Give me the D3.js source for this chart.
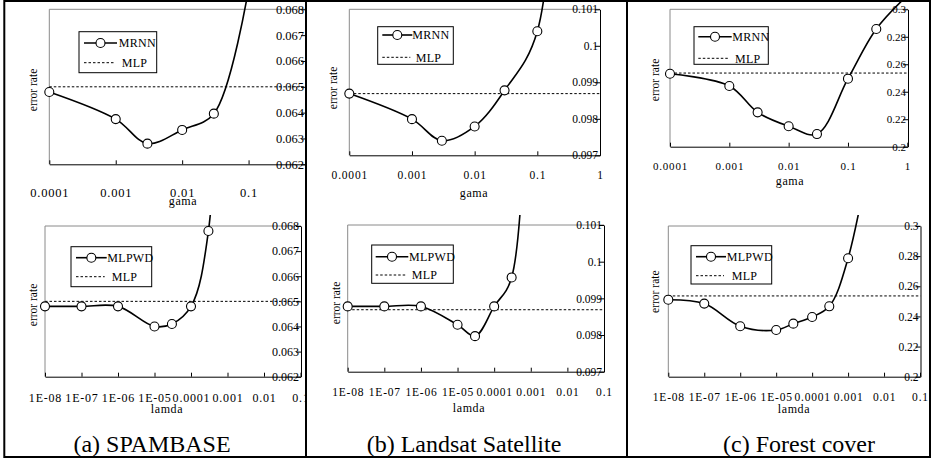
<!DOCTYPE html>
<html>
<head>
<meta charset="utf-8">
<title>error rate vs gama / lamda</title>
<script src="https://cdn.jsdelivr.net/npm/d3@7"></script>
<style>
  body { margin: 0; background: #fff; }
  svg { display: block; }
  svg text { font-family: "Liberation Serif", "DejaVu Serif", serif; }
</style>
</head>
<body>
<script>
// ---- data ----
const gamaTicks = [1e-4, 1e-3, 1e-2, 1e-1, 1];
const gamaTickLabels = ["0.0001", "0.001", "0.01", "0.1", "1"];
const lamdaTicks = [1e-8, 1e-7, 1e-6, 1e-5, 1e-4, 1e-3, 1e-2, 1e-1];
const lamdaTickLabels = ["1E-08", "1E-07", "1E-06", "1E-05", "0.0001", "0.001", "0.01", "0.1"];

const spamTicks = [0.062, 0.063, 0.064, 0.065, 0.066, 0.067, 0.068];
const spamTickLabels = ["0.062", "0.063", "0.064", "0.065", "0.066", "0.067", "0.068"];
const landTicks = [0.097, 0.098, 0.099, 0.1, 0.101];
const landTickLabels = ["0.097", "0.098", "0.099", "0.1", "0.101"];
const forestTicks = [0.2, 0.22, 0.24, 0.26, 0.28, 0.3];
const forestTickLabels = ["0.2", "0.22", "0.24", "0.26", "0.28", "0.3"];

// SPAMBASE
const spamGama = [1e-4, 1e-3, 3e-3, 1e-2, 3e-2, 1e-1];
const spamMRNN = [0.0648, 0.06375, 0.0628, 0.06333, 0.06396, 0.0688];
const spamLamda = [1e-8, 1e-7, 1e-6, 1e-5, 3e-5, 1e-4, 3e-4, 1e-3];
const spamMLPWD = [0.0648, 0.0648, 0.0648, 0.0640, 0.0641, 0.0648, 0.0678, 0.085];
const spamMLP = 0.065;

// Landsat Satellite
const landGama = [1e-4, 1e-3, 3e-3, 1e-2, 3e-2, 1e-1, 3e-1];
const landMRNN = [0.09869, 0.09799, 0.0974, 0.09779, 0.09878, 0.1004, 0.115];
const landLamda = [1e-8, 1e-7, 1e-6, 1e-5, 3e-5, 1e-4, 3e-4, 1e-3];
const landMLPWD = [0.09878, 0.09878, 0.09878, 0.09828, 0.09797, 0.09878, 0.09957, 0.12];
const landMLP = 0.09869;

// Forest cover
const forestGama = [1e-4, 1e-3, 3e-3, 1e-2, 3e-2, 1e-1, 3e-1, 1];
const forestMRNN = [0.2531, 0.2442, 0.225, 0.2149, 0.2092, 0.2495, 0.2857, 0.31];
const forestLamda = [1e-8, 1e-7, 1e-6, 1e-5, 3e-5, 1e-4, 3e-4, 1e-3, 1e-2];
const forestMLPWD = [0.2511, 0.2485, 0.2335, 0.231, 0.2352, 0.2396, 0.2467, 0.2786, 0.4];
const forestMLP = 0.2536;

const captions = ["(a) SPAMBASE", "(b) Landsat Satellite", "(c) Forest cover"];

const FONT = "Liberation Serif, DejaVu Serif, serif";

// ---- panels (data refs + layout) ----
const panels = [
  { xs: spamGama, ys: spamMRNN, mlp: spamMLP, name: "MRNN", xTitle: "gama",
    xTicks: gamaTicks, xLabels: gamaTickLabels, yTicks: spamTicks, yLabels: spamTickLabels,
    xDomain: [1e-4, 1], yDomain: [0.062, 0.068],
    left: 49.3, right: 315, axisX: 306, top: 9.3, bottom: 164.3, font: 12.5,
    tickBase: 32.4, titleBase: 40.7, titleX: 183, errX: 33, errY: 90,
    clip: [5, 2, 300, 212],
    leg: { box: [79, 31.7, 77.7, 41], y1: 43, y2: 62.7, l: [84, 117], t1: 118.7, t2: 121.7 } },
  { xs: spamLamda, ys: spamMLPWD, mlp: spamMLP, name: "MLPWD", xTitle: "lamda",
    xTicks: lamdaTicks, xLabels: lamdaTickLabels, yTicks: spamTicks, yLabels: spamTickLabels,
    xDomain: [1e-8, 0.1], yDomain: [0.062, 0.068],
    left: 45, right: 300.5, axisX: 301, top: 226, bottom: 376.7, font: 12,
    tickBase: 25, titleBase: 36.6, titleX: 167, errX: 32.7, errY: 305,
    clip: [5, 215, 300, 205],
    leg: { box: [71, 246.7, 80.7, 40], y1: 257.7, y2: 276.7, l: [76, 106.7], t1: 107.3, t2: 111.7 } },
  { xs: landGama, ys: landMRNN, mlp: landMLP, name: "MRNN", xTitle: "gama",
    xTicks: gamaTicks, xLabels: gamaTickLabels, yTicks: landTicks, yLabels: landTickLabels,
    xDomain: [1e-4, 1], yDomain: [0.097, 0.101],
    left: 349.3, right: 600, axisX: 600, top: 9.3, bottom: 155.3, font: 11.5,
    tickBase: 24, titleBase: 41.4, titleX: 474, errX: 333.3, errY: 88,
    clip: [307, 2, 319, 212],
    leg: { box: [377.7, 26.7, 75.6, 37.6], y1: 35, y2: 57.3, l: [382.3, 412.3], t1: 412.3, t2: 415.7 } },
  { xs: landLamda, ys: landMLPWD, mlp: landMLP, name: "MLPWD", xTitle: "lamda",
    xTicks: lamdaTicks, xLabels: lamdaTickLabels, yTicks: landTicks, yLabels: landTickLabels,
    xDomain: [1e-8, 0.1], yDomain: [0.097, 0.101],
    left: 347.7, right: 604, axisX: 604, top: 225, bottom: 371.7, font: 11.5,
    tickBase: 24, titleBase: 40, titleX: 469, errX: 335.7, errY: 303,
    clip: [307, 215, 319, 205],
    leg: { box: [371.7, 245, 81.6, 38.3], y1: 256.7, y2: 275, l: [375.7, 408.3], t1: 409, t2: 411.7 } },
  { xs: forestGama, ys: forestMRNN, mlp: forestMLP, name: "MRNN", xTitle: "gama",
    xTicks: gamaTicks, xLabels: gamaTickLabels, yTicks: forestTicks, yLabels: forestTickLabels,
    xDomain: [1e-4, 1], yDomain: [0.2, 0.3],
    left: 670, right: 907.3, axisX: 908, top: 9.3, bottom: 146.7, font: 11,
    tickBase: 23.3, titleBase: 38.3, titleX: 790, errX: 655, errY: 80,
    clip: [628, 2, 301, 212],
    leg: { box: [694, 26.7, 74.3, 37.6], y1: 36.7, y2: 58.3, l: [698.3, 731.7], t1: 732.3, t2: 735 } },
  { xs: forestLamda, ys: forestMLPWD, mlp: forestMLP, name: "MLPWD", xTitle: "lamda",
    xTicks: lamdaTicks, xLabels: lamdaTickLabels, yTicks: forestTicks, yLabels: forestTickLabels,
    xDomain: [1e-8, 0.1], yDomain: [0.2, 0.3],
    left: 668.3, right: 920, axisX: 920.5, top: 226, bottom: 376.7, font: 11.5,
    tickBase: 24.3, titleBase: 36.6, titleX: 794, errX: 655, errY: 291.7,
    clip: [628, 215, 301, 205],
    leg: { box: [691, 245.7, 80.7, 38.3], y1: 256.7, y2: 275.7, l: [696, 726], t1: 726.7, t2: 731.7 } }
];

const svg = d3.select("body").append("svg")
  .attr("width", 934)
  .attr("height", 458)
  .attr("font-family", FONT);

// centripetal Catmull-Rom keeps the off-scale last points from making loops
const smooth = d3.line().curve(d3.curveCatmullRom.alpha(0.5));

function drawPanel(p, i) {
  const x = d3.scaleLog().domain(p.xDomain).range([p.left, p.right]);
  const y = d3.scaleLinear().domain(p.yDomain).range([p.bottom, p.top]);

  svg.append("clipPath").attr("id", "clip" + i)
    .append("rect")
    .attr("x", p.clip[0]).attr("y", p.clip[1])
    .attr("width", p.clip[2]).attr("height", p.clip[3]);

  const g = svg.append("g")
    .attr("clip-path", "url(#clip" + i + ")")
    .attr("font-size", p.font)
    .attr("font-family", FONT);

  // grey plot border, top + left
  g.append("path")
    .attr("d", `M${p.left},${p.bottom}V${p.top}H${p.axisX}`)
    .attr("fill", "none")
    .attr("stroke", "#8a8a8a");

  // x axis, ticks pointing up
  const gx = g.append("g")
    .attr("transform", `translate(0,${p.bottom})`)
    .call(d3.axisBottom(x)
      .tickValues(p.xTicks)
      .tickFormat((d, k) => p.xLabels[k])
      .tickSizeInner(-4)
      .tickSizeOuter(0));
  gx.attr("font-size", p.font).attr("font-family", FONT);
  gx.selectAll("text")
    .attr("y", p.tickBase)
    .attr("dy", null)
    .style("letter-spacing", "0.8px");

  // y axis on the right, labels inside the plot
  const gy = g.append("g")
    .attr("transform", `translate(${p.axisX},0)`)
    .call(d3.axisLeft(y)
      .tickValues(p.yTicks)
      .tickFormat((d, k) => p.yLabels[k])
      .tickSizeInner(5)
      .tickSizeOuter(0)
      .tickPadding(-3));
  gy.attr("font-size", p.font).attr("font-family", FONT);

  // MLP reference
  g.append("line")
    .attr("x1", p.left).attr("x2", p.axisX)
    .attr("y1", y(p.mlp)).attr("y2", y(p.mlp))
    .attr("stroke", "#000")
    .attr("stroke-dasharray", "2.5,2");

  // smoothed series
  const pts = p.xs.map((v, k) => [x(v), y(p.ys[k])]);
  g.append("path")
    .attr("d", smooth(pts))
    .attr("fill", "none")
    .attr("stroke", "#000")
    .attr("stroke-width", 1.6);

  g.selectAll("circle.pt")
    .data(pts.filter((d, k) => p.ys[k] <= p.yDomain[1]))
    .join("circle")
    .attr("class", "pt")
    .attr("cx", d => d[0])
    .attr("cy", d => d[1])
    .attr("r", 4.5)
    .attr("fill", "#fff")
    .attr("stroke", "#000")
    .attr("stroke-width", 1.1);

  // legend
  const L = p.leg;
  g.append("rect")
    .attr("x", L.box[0]).attr("y", L.box[1])
    .attr("width", L.box[2]).attr("height", L.box[3])
    .attr("fill", "#fff").attr("stroke", "#000");
  g.append("line")
    .attr("x1", L.l[0]).attr("x2", L.l[1]).attr("y1", L.y1).attr("y2", L.y1)
    .attr("stroke", "#000").attr("stroke-width", 1.6);
  g.append("circle")
    .attr("cx", (L.l[0] + L.l[1]) / 2).attr("cy", L.y1).attr("r", 4.5)
    .attr("fill", "#fff").attr("stroke", "#000").attr("stroke-width", 1.1);
  g.append("line")
    .attr("x1", L.l[0]).attr("x2", L.l[1] - 2).attr("y1", L.y2).attr("y2", L.y2)
    .attr("stroke", "#000").attr("stroke-dasharray", "2.5,2");
  g.append("text").attr("x", L.t1).attr("y", L.y1).attr("dy", "0.35em")
    .attr("font-size", 12).style("letter-spacing", "0.3px").text(p.name);
  g.append("text").attr("x", L.t2).attr("y", L.y2).attr("dy", "0.35em")
    .attr("font-size", 12).style("letter-spacing", "0.3px").text("MLP");

  // axis titles
  g.append("text")
    .attr("x", p.titleX).attr("y", p.bottom + p.titleBase)
    .attr("text-anchor", "middle")
    .attr("font-size", 12)
    .style("letter-spacing", "0.6px")
    .text(p.xTitle);
  g.append("text")
    .attr("transform", `translate(${p.errX},${p.errY}) rotate(-90)`)
    .attr("text-anchor", "middle")
    .attr("dy", "0.35em")
    .attr("font-size", 11.5)
    .text("error rate");
}

panels.forEach(drawPanel);

// captions under each column
const captionX = [152, 464, 799];
svg.selectAll("text.cap")
  .data(captions)
  .join("text")
  .attr("class", "cap")
  .attr("x", (d, i) => captionX[i])
  .attr("y", 452)
  .attr("text-anchor", "middle")
  .attr("font-size", 24)
  .attr("font-family", FONT)
  .text(d => d);

// outer frame and column dividers
const frame = svg.append("g").attr("stroke", "#000").attr("stroke-width", 2).attr("fill", "none");
frame.append("rect").attr("x", 4.3).attr("y", 1).attr("width", 925.7).attr("height", 456);
[306, 627].forEach(xv => {
  frame.append("line").attr("x1", xv).attr("x2", xv).attr("y1", 1).attr("y2", 457);
});
</script>
</body>
</html>
